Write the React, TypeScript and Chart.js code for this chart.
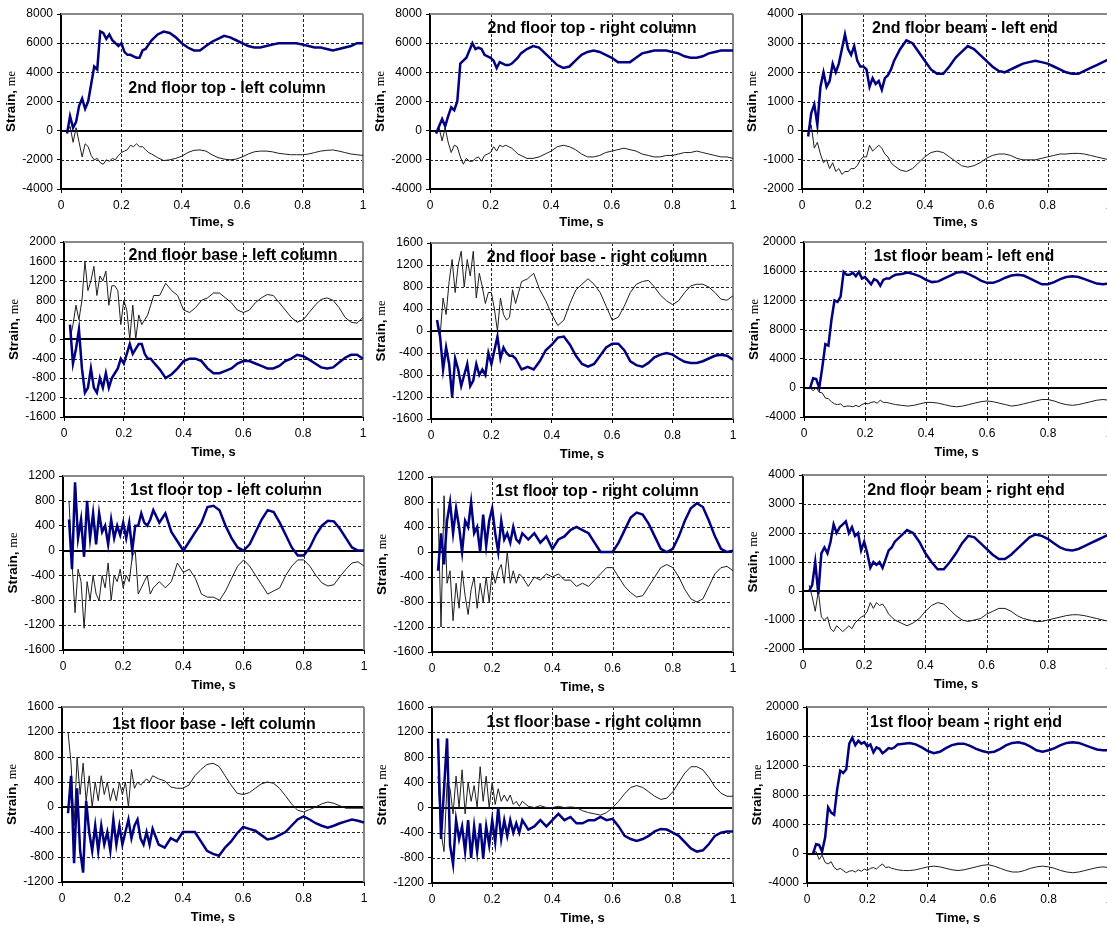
import React, { useEffect, useRef } from 'react';
import { Chart, registerables } from 'chart.js';
Chart.register(...registerables);

// ---------------- DATA ----------------
const TIME = [
  0.02, 0.03, 0.04, 0.05, 0.06, 0.07, 0.08, 0.09, 0.10, 0.11, 0.12, 0.13, 0.14, 0.15, 0.16,
  0.17, 0.18, 0.19, 0.20, 0.21, 0.22, 0.23, 0.24, 0.25, 0.26, 0.27, 0.28, 0.29, 0.30,
  0.32, 0.34, 0.36, 0.38, 0.40, 0.42, 0.44, 0.46, 0.48, 0.50, 0.52, 0.54, 0.56, 0.58, 0.60,
  0.62, 0.64, 0.66, 0.68, 0.70, 0.72, 0.74, 0.76, 0.78, 0.80, 0.82, 0.84, 0.86, 0.88, 0.90,
  0.92, 0.94, 0.96, 0.98, 1.00,
];

const X_TICK_STEP = 0.2;
const X_TITLE = 'Time, s';
const Y_TITLE_MAIN = 'Strain, ';
const Y_TITLE_UNIT = 'me';

const TITLES = [
  '2nd floor top - left column',
  '2nd floor top - right column',
  '2nd floor beam - left end',
  '2nd floor base - left column',
  '2nd floor base - right column',
  '1st floor beam - left end',
  '1st floor top - left column',
  '1st floor top - right column',
  '2nd floor beam - right end',
  '1st floor base - left column',
  '1st floor base - right column',
  '1st floor beam - right end',
];

const Y_MIN = [-4000, -4000, -2000, -1600, -1600, -4000, -1600, -1600, -2000, -1200, -1200, -4000];
const Y_MAX = [8000, 8000, 4000, 2000, 1600, 20000, 1200, 1200, 4000, 1600, 1600, 20000];
const Y_STEP = [2000, 2000, 1000, 400, 400, 4000, 400, 400, 1000, 400, 400, 4000];

const S1_BLUE = [-200, 1000, 200, 600, 1700, 2200, 1500, 2000, 3200, 4400, 4200, 6800, 6700, 6300, 6600, 6200, 6000, 5800, 6000, 5400, 5200, 5200, 5100, 5000, 5000, 5500, 5600, 5900, 6200,
  6600, 6800, 6700, 6400, 6000, 5700, 5500, 5500, 5800, 6100, 6300, 6500, 6400, 6200, 6000, 5800, 5700, 5700, 5800, 5900, 6000, 6000, 6000, 6000, 5900, 5800, 5700, 5700, 5600, 5500, 5600, 5700, 5800, 6000, 6000];
const S1_THIN = [-100, 300, -800, 200, -800, -1800, -900, -1100, -1700, -2000, -1900, -2200, -2300, -2000, -2100, -1900, -2000, -1700, -1500, -1400, -1300, -1000, -1100, -900, -1100, -1100, -1300, -1500, -1600,
  -1850, -2050, -2000, -1900, -1750, -1500, -1350, -1320, -1400, -1650, -1850, -1950, -2000, -1950, -1800, -1600, -1450, -1400, -1400, -1450, -1550, -1600, -1650, -1650, -1650, -1600, -1500, -1400, -1350, -1320, -1400, -1500, -1600, -1650, -1700];

const S2_BLUE = [-200, 300, 800, 300, 1000, 1600, 1400, 2000, 4600, 4800, 5000, 5500, 6000, 5600, 5700, 5600, 5200, 5100, 5000, 4800, 4300, 4700, 4600, 4500, 4500, 4600, 4800, 5000, 5300,
  5600, 5800, 5700, 5300, 4900, 4500, 4300, 4400, 4800, 5200, 5400, 5500, 5400, 5200, 5000, 4700, 4700, 4700, 5000, 5300, 5400, 5500, 5500, 5500, 5400, 5300, 5100, 5000, 5000, 5100, 5300, 5400, 5500, 5500, 5500];
const S2_THIN = [-200, 200, -700, 200, -800, -1500, -1000, -1100, -1800, -2300, -1900, -2100, -2100, -1900, -1800, -2100, -1700, -1600, -1500, -1100, -1400, -1000, -1100, -1000, -1100, -1200, -1400, -1600, -1700,
  -1900, -1900, -1800, -1600, -1400, -1100, -1000, -1100, -1300, -1600, -1800, -1800, -1700, -1500, -1400, -1300, -1200, -1300, -1400, -1600, -1700, -1800, -1800, -1700, -1700, -1600, -1500, -1500, -1400, -1500, -1600, -1700, -1800, -1800, -1900];

const S3_BLUE = [-200, 600, 900, 200, 1500, 2000, 1500, 1700, 2300, 2000, 2300, 2800, 3300, 2800, 2600, 2900, 2400, 2200, 2200, 2100, 1500, 1800, 1600, 1700, 1400, 1800, 1900, 2100, 2400,
  2800, 3100, 3000, 2700, 2400, 2100, 1950, 1950, 2200, 2500, 2700, 2900, 2800, 2600, 2400, 2200, 2050, 2000, 2100, 2200, 2300, 2350, 2400, 2350, 2300, 2200, 2100, 2000, 1950, 1950, 2050, 2150, 2250, 2350, 2450];
const S3_THIN = [-100, 200, -600, -400, -800, -1100, -1000, -1300, -1100, -1400, -1300, -1500, -1400, -1400, -1300, -1300, -1200, -1000, -900, -900, -500, -700, -600, -500, -600, -800, -900, -1100, -1200,
  -1350, -1400, -1300, -1100, -900, -750, -700, -750, -900, -1050, -1200, -1250, -1200, -1100, -950, -850, -800, -800, -850, -950, -1000, -1000, -1000, -950, -900, -850, -800, -800, -780, -780, -800, -850, -900, -950, -1000];

const S4_BLUE = [300, -500, -200, 200, -600, -1100, -1000, -600, -1000, -1100, -800, -1000, -700, -1000, -800, -700, -600, -400, -500, -300, -100, -300, -200, -100, -100, -300, -400, -400, -480,
  -620, -800, -720, -600, -450, -400, -400, -450, -600, -700, -700, -650, -600, -500, -450, -450, -500, -550, -600, -600, -550, -450, -400, -320, -350, -420, -500, -580, -600, -580, -480, -380, -320, -320, -400];
const S4_THIN = [0, 300, 700, 400, 800, 1600, 1000, 1200, 1500, 900, 1300, 1200, 1400, 700, 1100, 1100, 1000, 300, 800, 600, 0, 700, 0, 500, 300, 400, 500, 700, 900,
  900, 1150, 1000, 900, 600, 550, 650, 800, 850, 950, 950, 850, 750, 600, 550, 600, 750, 850, 920, 900, 750, 600, 450, 350, 400, 550, 700, 820, 850, 800, 650, 450, 350, 330, 450];

const S5_BLUE = [200, -100, -700, -300, -600, -1200, -500, -700, -1000, -800, -600, -1000, -900, -600, -800, -700, -800, -400, -600, -350, -100, -500, -300, -400, -450, -450, -500, -600, -700,
  -650, -700, -550, -350, -250, -120, -100, -250, -450, -600, -650, -600, -450, -300, -230, -230, -350, -550, -620, -650, -580, -480, -430, -400, -430, -500, -560, -580, -580, -550, -500, -450, -430, -450, -520];
const S5_THIN = [100, -100, 600, 300, 900, 1300, 700, 1200, 1450, 800, 1300, 1000, 1450, 600, 1050, 800, 500, 700, 700, 400, 0, 600, 300, 200, 250, 750, 500, 700, 900,
  950, 1050, 750, 550, 300, 100, 200, 500, 750, 850, 950, 850, 700, 450, 200, 250, 450, 700, 850, 900, 920, 800, 650, 550, 480, 550, 700, 820, 850, 850, 800, 700, 580, 560, 640];

const S6_BLUE = [0, 1300, 1200, 0, 2800, 6000, 5800, 9300, 12000, 11800, 12500, 15900, 15500, 15500, 15800, 15300, 15900, 15000, 15200, 14700, 14200, 14900, 14700, 14000, 14800, 15000, 15000, 15300, 15500,
  15600, 15800, 15600, 15300, 14800, 14500, 14600, 15000, 15400, 15800, 15900, 15600, 15200, 14700, 14400, 14400, 14700, 15100, 15400, 15500, 15400, 15000, 14600, 14200, 14200, 14500, 14900, 15200, 15300, 15200, 14900, 14600, 14300, 14200, 14300];
const S6_THIN = [0, -400, 0, -600, -700, -1400, -1500, -1900, -2200, -2300, -2200, -2600, -2500, -2500, -2600, -2400, -2600, -2300, -2100, -2200, -2000, -1900, -2100, -1700, -2000, -2000, -2100, -2200, -2300,
  -2400, -2500, -2400, -2200, -2000, -2000, -2100, -2300, -2500, -2600, -2500, -2300, -2100, -1900, -1800, -1900, -2100, -2300, -2500, -2400, -2200, -2000, -1800, -1600, -1600, -1800, -2100, -2300, -2400, -2300, -2100, -1900, -1700, -1600, -1700];

const S7_BLUE = [500, -300, 1100, 200, 500, -100, 800, 200, 600, 100, 600, 300, 400, 100, 500, 200, 400, 250, 450, 200, 450, 0, 400, 400, 600, 450, 400, 500, 650,
  450, 600, 300, 150, 0, 150, 300, 450, 700, 720, 650, 400, 200, 50, 0, 100, 300, 500, 650, 620, 450, 250, 50, -80, -80, 50, 250, 400, 480, 470, 350, 200, 50, 0, 0];
const S7_THIN = [800, -200, -1000, -300, -500, -1250, -500, -800, -400, -700, -800, -400, -600, -200, -800, -400, -500, -300, -600, -400, -500, -100, 0, -700, -600, -500, -400, -700, -600,
  -500, -600, -500, -200, -350, -300, -450, -700, -750, -750, -800, -650, -450, -250, -150, -250, -400, -550, -700, -650, -600, -400, -250, -150, -150, -250, -400, -520, -570, -550, -420, -300, -200, -180, -250];

const S8_BLUE = [-300, 300, -200, 500, 800, 300, 700, 400, 0, 500, 400, 800, 300, 400, 0, 600, 100, 500, 700, 300, 0, 500, 200, 300, 150, 400, 200, 150, 300,
  200, 300, 150, 250, 50, 200, 250, 350, 400, 350, 300, 150, 0, 0, 0, 150, 350, 550, 630, 600, 450, 250, 50, 0, 50, 250, 500, 700, 780, 720, 500, 250, 50, 0, 20];
const S8_THIN = [700, -1200, 900, -500, -300, -1100, -500, -900, -300, -700, -1000, -600, -400, -900, -500, -800, -400, -800, -300, -500, -300, -200, -500, 0, -500, -300, -500, -350, -400,
  -550, -400, -450, -350, -400, -350, -450, -450, -550, -500, -550, -450, -350, -250, -250, -400, -550, -650, -720, -700, -550, -400, -250, -200, -250, -400, -600, -750, -800, -750, -550, -350, -250, -230, -300];

const S9_BLUE = [0, 200, 1000, -100, 1300, 1500, 1300, 1700, 2300, 2000, 2200, 2300, 2400, 2000, 2200, 1900, 2000, 1400, 1700, 1300, 800, 1000, 900, 1000, 800, 1100, 1400, 1500, 1700,
  1900, 2100, 2000, 1700, 1300, 1000, 750, 750, 1000, 1300, 1650, 1900, 1850, 1650, 1450, 1250, 1100, 1100, 1250, 1450, 1650, 1850, 1950, 1900, 1800, 1650, 1500, 1420, 1400, 1450, 1550, 1650, 1750, 1850, 1950];
const S9_THIN = [200, -200, -700, 0, -900, -1000, -900, -1300, -1400, -1200, -1300, -1400, -1300, -1200, -1300, -1100, -1000, -900, -850, -700, -400, -600, -400, -500, -450, -600, -800, -900, -1000,
  -1100, -1200, -1100, -950, -700, -500, -400, -450, -650, -850, -1000, -1050, -1000, -950, -800, -700, -600, -600, -700, -850, -950, -1000, -1050, -1050, -1000, -950, -900, -850, -820, -820, -850, -900, -950, -1000, -1050];

const S10_BLUE = [-100, 500, -900, 300, -700, -1050, 100, -400, -700, -300, -700, -300, -600, -400, -700, -200, -600, -300, -600, -400, -200, -500, -300, -200, -500, -600, -400, -600, -350,
  -600, -650, -500, -550, -400, -400, -400, -550, -700, -750, -780, -650, -550, -420, -320, -350, -380, -450, -520, -500, -450, -400, -300, -200, -150, -200, -260, -300, -330, -300, -260, -230, -200, -220, -250];
const S10_THIN = [1200, 700, -300, 800, 200, 700, 100, 500, 0, 400, 100, 500, 200, 400, 100, 300, 100, 400, 200, 400, 0, 600, 300, 400, 350, 400, 450, 400, 500,
  450, 420, 320, 300, 300, 350, 500, 600, 680, 700, 650, 500, 350, 220, 200, 230, 300, 370, 400, 380, 300, 180, 50, -50, -80, -40, 0, 50, 80, 60, 20, -20, -20, -20, -20];

const S11_BLUE = [1100, -500, 300, 1100, -600, -900, -200, -500, -300, -700, -200, -800, -300, -700, -250, -800, -300, -600, -200, -550, 0, -500, -200, -450, -200, -400, -250, -400, -200,
  -350, -300, -200, -300, -200, -100, -200, -150, -250, -250, -200, -200, -150, -200, -180, -300, -450, -500, -530, -500, -450, -380, -340, -350, -400, -450, -550, -650, -700, -680, -580, -450, -400, -380, -380];
const S11_THIN = [500, -400, -700, 400, 300, -100, 500, 0, 600, -100, 400, 100, 350, 0, 650, 100, 500, 0, 400, 50, 300, 100, 200, 100, 200, 50, 100, 20, 100,
  20, 0, 30, 0, 0, 20, 0, 10, 0, -50, -80, -100, -120, -80, 0, 100, 220, 320, 350, 320, 250, 180, 130, 150, 250, 400, 550, 650, 650, 600, 480, 330, 230, 180, 180];

const S12_BLUE = [0, 1300, 1200, 300, 2200, 6300, 5600, 5300, 8800, 11300, 11000, 11500, 15000, 15800, 14800, 15400, 15000, 15200, 14600, 14900, 13800, 14500, 14300, 13700, 14000, 14400, 14300, 14500, 14900,
  15000, 15100, 14900, 14500, 14000, 13700, 13900, 14400, 14800, 15000, 15000, 14700, 14300, 14000, 13800, 13900, 14300, 14800, 15100, 15200, 15000, 14600, 14100, 13900, 14100, 14400, 14800, 15100, 15200, 15100, 14800, 14500, 14200, 14100, 14100];
const S12_THIN = [0, 300, -800, -200, -1200, -1400, -1100, -1900, -2200, -2000, -2300, -2600, -2400, -2300, -2500, -2200, -2400, -2100, -2300, -2000, -1900, -2100, -1700, -1400, -1900, -1800, -2000, -2100, -2200,
  -2300, -2300, -2200, -2000, -1800, -1700, -1800, -2000, -2200, -2300, -2200, -2000, -1800, -1600, -1500, -1700, -2000, -2300, -2500, -2500, -2300, -2000, -1800, -1700, -1800, -2000, -2300, -2500, -2600, -2500, -2300, -2100, -1900, -1800, -1900];

const BLUE_SERIES = [S1_BLUE, S2_BLUE, S3_BLUE, S4_BLUE, S5_BLUE, S6_BLUE, S7_BLUE, S8_BLUE, S9_BLUE, S10_BLUE, S11_BLUE, S12_BLUE];
const THIN_SERIES = [S1_THIN, S2_THIN, S3_THIN, S4_THIN, S5_THIN, S6_THIN, S7_THIN, S8_THIN, S9_THIN, S10_THIN, S11_THIN, S12_THIN];

// ---------------- LAYOUT ----------------
const COL_X = [0, 370, 740];
const COL_W = [369, 369, 370];
const ROW_Y = [0, 230, 465, 700];
const ROW_H = [230, 235, 235, 228];

// plot rectangles (page px) and in-plot title centres
const LAYOUT = [
  { col: 0, row: 0, L: 61, T: 14, B: 189, R: 363, tx: 227, ty: 89 },
  { col: 1, row: 0, L: 430, T: 14, B: 189, R: 733, tx: 592, ty: 29 },
  { col: 2, row: 0, L: 802, T: 14, B: 189, R: 1109, tx: 965, ty: 29 },
  { col: 0, row: 1, L: 64, T: 242, B: 417, R: 363, tx: 233, ty: 256 },
  { col: 1, row: 1, L: 431, T: 243, B: 419, R: 733, tx: 597, ty: 258 },
  { col: 2, row: 1, L: 804, T: 242, B: 417, R: 1109, tx: 964, ty: 257 },
  { col: 0, row: 2, L: 63, T: 476, B: 650, R: 364, tx: 226, ty: 491 },
  { col: 1, row: 2, L: 432, T: 477, B: 652, R: 733, tx: 597, ty: 492 },
  { col: 2, row: 2, L: 803, T: 475, B: 649, R: 1109, tx: 966, ty: 491 },
  { col: 0, row: 3, L: 62, T: 707, B: 882, R: 364, tx: 214, ty: 725 },
  { col: 1, row: 3, L: 432, T: 707, B: 883, R: 733, tx: 594, ty: 723 },
  { col: 2, row: 3, L: 807, T: 707, B: 883, R: 1109, tx: 966, ty: 723 },
];

const SANS = "'Liberation Sans', Arial, sans-serif";
const SERIF = "'Liberation Serif', 'Times New Roman', serif";
const BLUE = '#000080';
const THIN = '#1e1e1e';

function Panel({ idx }: { idx: number }) {
  const ref = useRef<HTMLCanvasElement | null>(null);
  const lay = LAYOUT[idx];
  const cx = COL_X[lay.col];
  const cy = ROW_Y[lay.row];
  const cw = COL_W[lay.col];
  const ch = ROW_H[lay.row];

  useEffect(() => {
    const canvas = ref.current;
    if (!canvas) return;
    const yw = lay.L - cx;
    const xh = cy + ch - lay.B;
    const titlePad = Math.max(0, cy + ch - 7.8 - (lay.B + 35));

    const decor = {
      id: 'decor' + idx,
      beforeDatasetsDraw(chart: any) {
        const { ctx, chartArea: a, scales } = chart;
        const xs = scales.x;
        const ys = scales.y;
        const line = (x1: number, y1: number, x2: number, y2: number) => {
          ctx.beginPath();
          ctx.moveTo(x1, y1);
          ctx.lineTo(x2, y2);
          ctx.stroke();
        };
        ctx.save();
        ctx.strokeStyle = '#222';
        ctx.lineWidth = 1;
        ctx.setLineDash([3, 2]);
        ys.ticks.forEach((t: any) => {
          if (t.value === Y_MIN[idx] || t.value === Y_MAX[idx] || t.value === 0) return;
          const py = Math.round(ys.getPixelForValue(t.value)) + 0.5;
          line(a.left, py, a.right, py);
        });
        xs.ticks.forEach((t: any) => {
          if (t.value <= 0.001 || t.value >= 0.999) return;
          const px = Math.round(xs.getPixelForValue(t.value)) + 0.5;
          line(px, a.top, px, a.bottom);
        });
        ctx.setLineDash([]);
        ctx.strokeStyle = '#000';
        ctx.lineWidth = 2;
        const y0 = Math.round(ys.getPixelForValue(0));
        line(a.left, y0, a.right, y0);
        ctx.strokeStyle = '#888';
        ctx.lineWidth = 2;
        line(a.left, a.top, a.right, a.top);
        line(a.right, a.top, a.right, a.bottom);
        ctx.restore();
      },
      afterDraw(chart: any) {
        const { ctx, chartArea: a } = chart;
        ctx.save();
        ctx.fillStyle = '#000';
        ctx.textAlign = 'center';
        ctx.textBaseline = 'middle';
        ctx.font = `bold 16px ${SANS}`;
        ctx.fillText(TITLES[idx], lay.tx - cx, lay.ty - cy);
        // y-axis title: "Strain, " bold + "me" small serif
        ctx.translate(lay.L - 50 - cx, (a.top + a.bottom) / 2);
        ctx.rotate(-Math.PI / 2);
        const f1 = `bold 13.5px ${SANS}`;
        const f2 = `12.5px ${SERIF}`;
        ctx.font = f1;
        const w1 = ctx.measureText(Y_TITLE_MAIN).width;
        ctx.font = f2;
        const w2 = ctx.measureText(Y_TITLE_UNIT).width;
        const sx = -(w1 + w2) / 2;
        ctx.textAlign = 'left';
        ctx.font = f1;
        ctx.fillText(Y_TITLE_MAIN, sx, 0);
        ctx.font = f2;
        ctx.fillText(Y_TITLE_UNIT, sx + w1, 1);
        ctx.restore();
      },
    };

    const mk = (vals: number[]) => TIME.map((t, i) => ({ x: t, y: vals[i] }));

    const chart = new Chart(canvas, {
      type: 'line',
      data: {
        datasets: [
          {
            data: mk(BLUE_SERIES[idx]),
            borderColor: BLUE,
            borderWidth: 2.5,
            pointRadius: 0,
            tension: 0,
            fill: false,
          },
          {
            data: mk(THIN_SERIES[idx]),
            borderColor: THIN,
            borderWidth: 1,
            pointRadius: 0,
            tension: 0,
            fill: false,
          },
        ],
      },
      options: {
        responsive: false,
        animation: false,
        devicePixelRatio: 1,
        events: [],
        layout: { padding: { top: lay.T - cy, right: cx + cw - lay.R, left: 0, bottom: 0 } },
        plugins: { legend: { display: false }, tooltip: { enabled: false } },
        scales: {
          x: {
            type: 'linear',
            min: 0,
            max: 1,
            ticks: {
              stepSize: X_TICK_STEP,
              autoSkip: false,
              maxRotation: 0,
              padding: 5,
              color: '#000',
              font: { family: SANS, size: 12 },
              callback: (v: any) => String(Math.round(Number(v) * 10) / 10),
            },
            grid: { drawOnChartArea: false, drawTicks: true, tickLength: 4, tickColor: '#000', tickWidth: 1 },
            border: { display: true, color: '#000', width: 2 },
            title: {
              display: true,
              text: X_TITLE,
              color: '#000',
              font: { family: SANS, size: 13, weight: 'bold' },
              padding: { top: 0, bottom: titlePad },
            },
            afterFit: (s: any) => {
              s.height = xh;
              s.paddingLeft = 0;
              s.paddingRight = 0;
            },
          },
          y: {
            type: 'linear',
            min: Y_MIN[idx],
            max: Y_MAX[idx],
            ticks: {
              stepSize: Y_STEP[idx],
              autoSkip: false,
              padding: 4,
              color: '#000',
              font: { family: SANS, size: 12 },
              callback: (v: any) => String(v),
            },
            grid: { drawOnChartArea: false, drawTicks: true, tickLength: 4, tickColor: '#000', tickWidth: 1 },
            border: { display: true, color: '#000', width: 2 },
            afterFit: (s: any) => {
              s.width = yw;
              s.paddingTop = 0;
              s.paddingBottom = 0;
            },
          },
        },
      },
      plugins: [decor],
    } as any);
    return () => chart.destroy();
  }, [idx]);

  return (
    <canvas
      ref={ref}
      width={cw}
      height={ch}
      style={{ position: 'absolute', left: cx, top: cy, width: cw, height: ch }}
    />
  );
}

export default function App() {
  return (
    <div
      style={{
        position: 'absolute',
        left: 0,
        top: 0,
        width: 1107,
        height: 928,
        overflow: 'hidden',
        background: '#fff',
      }}
    >
      {LAYOUT.map((_, i) => (
        <Panel key={i} idx={i} />
      ))}
    </div>
  );
}
